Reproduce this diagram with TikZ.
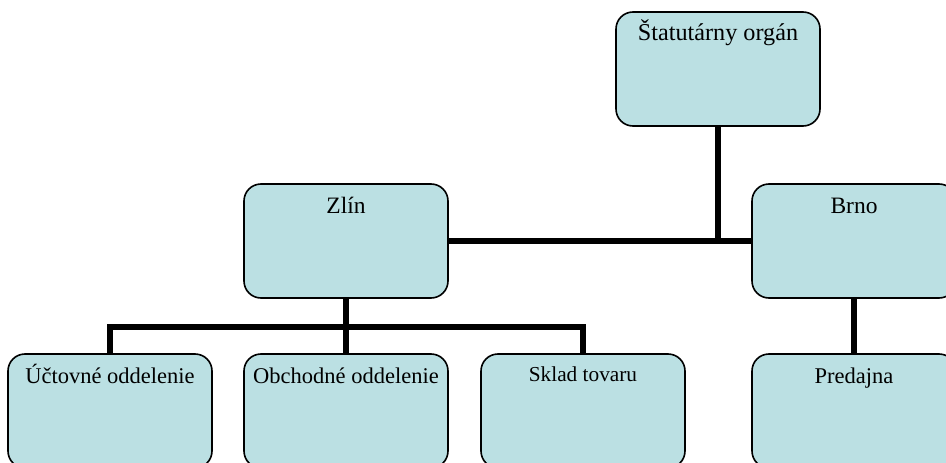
\documentclass[tikz,border=0pt]{standalone}
\usepackage{fontspec}
\setmainfont{Liberation Serif}
\definecolor{boxfill}{RGB}{187,224,227}
\tikzset{
  orgbox/.style={draw=black, line width=1.6pt, fill=boxfill, rounded corners=17pt,
    minimum width=204pt, minimum height=114pt, inner sep=0pt, align=center,
    text height=29pt, text depth=85pt},
  toprow/.style={font=\fontsize{23.5}{28}\selectfont},
  botrow/.style={font=\fontsize{22.5}{27}\selectfont},
  conn/.style={draw=black, line width=6pt, line join=miter}
}
\begin{document}
\begin{tikzpicture}[x=1pt,y=-1pt]
\useasboundingbox (0,0) rectangle (946,463);
\clip (0,0) rectangle (946,463);
\node[orgbox,font=\fontsize{24.2}{29}\selectfont] (S) at (718,69) {Štatutárny orgán};
\node[orgbox,toprow] (Z) at (346,241) {Zlín};
\node[orgbox,toprow] (B) at (854,241) {Brno};
\node[orgbox,botrow] (U) at (110,411) {Účtovné oddelenie};
\node[orgbox,botrow] (O) at (346,411) {Obchodné oddelenie};
\node[orgbox,font=\fontsize{21.3}{25}\selectfont,text height=27pt,text depth=87pt] (K) at (583,411) {Sklad tovaru};
\node[orgbox,botrow] (P) at (854,411) {Predajna};
\coordinate (bus) at (346,327);
\draw[conn] (Z.east) -- (B.west);
\draw[conn] (S.south) -- (S.south |- Z.east);
\draw[conn] (Z.south) -- (O.north);
\draw[conn] (U.north) |- (bus) -| (K.north);
\draw[conn] (B.south) -- (P.north);
\end{tikzpicture}
\end{document}
